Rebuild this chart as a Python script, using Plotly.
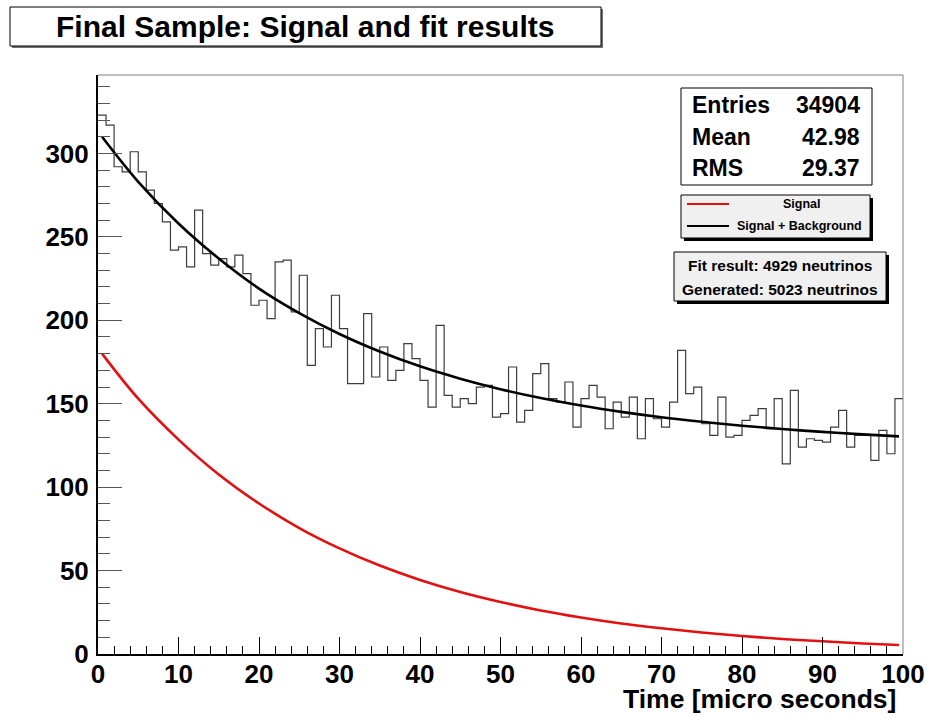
import plotly.graph_objects as go

# ---- data ----
bin_lower_edges = list(range(0, 100))          # 1 micro-second bins, 0..100
counts = [323, 317, 292, 289, 301, 289, 278, 270, 259, 242,
          244, 232, 266, 240, 233, 237, 232, 239, 228, 209,
          212, 201, 235, 236, 205, 227, 173, 195, 184, 215,
          195, 162, 162, 204, 166, 184, 164, 170, 186, 177,
          164, 148, 197, 155, 148, 153, 150, 160, 161, 142,
          144, 172, 139, 146, 168, 174, 153, 151, 163, 136,
          153, 161, 154, 135, 151, 142, 154, 129, 153, 141,
          136, 151, 182, 156, 160, 138, 131, 154, 130, 131,
          140, 143, 147, 135, 153, 114, 158, 124, 129, 128,
          127, 136, 146, 124, 131, 131, 116, 134, 120, 153]

fit_time = [0.5, 5, 10, 15, 20, 25, 30, 35, 40, 45, 50,
            55, 60, 65, 70, 75, 80, 85, 90, 95, 99.5]
signal_fit = [180, 153, 128.5, 107.6, 90.2, 75.5, 63.3, 53.0, 44.4, 37.2, 31.2,
              26.1, 21.9, 18.3, 15.4, 12.9, 10.8, 9.0, 7.6, 6.3, 5.4]
total_fit = [310, 283, 258, 237, 219, 204.3, 191.8, 181.3, 172.4, 165.0, 158.7,
             153.4, 148.9, 145.1, 141.9, 139.2, 136.8, 134.8, 133.1, 131.6, 130.4]

x_ticks = [0, 10, 20, 30, 40, 50, 60, 70, 80, 90, 100]
y_ticks = [0, 50, 100, 150, 200, 250, 300]

title_text = "Final Sample: Signal and fit results"
x_title = "Time [micro seconds]"
stats = [("Entries", "34904"), ("Mean", "42.98"), ("RMS", "29.37")]
legend_labels = ["Signal", "Signal + Background"]
fit_lines = ["Fit result: 4929 neutrinos", "Generated: 5023 neutrinos"]

# ---- layout geometry ----
W, H = 927, 717
ML, MR, MT, MB = 98, 24, 75, 63
PW, PH = W - ML - MR, H - MT - MB
FONT = "Liberation Sans, Arial, sans-serif"


def px(xp):
    return (xp - ML) / PW


def py(yp):
    return (H - MB - yp) / PH


fig = go.Figure()

# histogram drawn as steps over the bin edges
edges = bin_lower_edges + [bin_lower_edges[-1] + 1]
fig.add_trace(go.Scatter(x=edges, y=counts + [counts[-1]], mode="lines",
                         line=dict(shape="hv", color="#3c3c3c", width=1.2),
                         showlegend=False, hoverinfo="skip"))
fig.add_trace(go.Scatter(x=fit_time, y=total_fit, mode="lines",
                         line=dict(shape="spline", color="black", width=2.6),
                         showlegend=False))
fig.add_trace(go.Scatter(x=fit_time, y=signal_fit, mode="lines",
                         line=dict(shape="spline", color="#e41010", width=2.6),
                         showlegend=False))

shapes = []
annotations = []

# frame top / right (grey)
shapes.append(dict(type="line", xref="paper", yref="paper", x0=0, x1=1, y0=1, y1=1,
                   line=dict(color="#808080", width=1)))
shapes.append(dict(type="line", xref="paper", yref="paper", x0=1, x1=1, y0=0, y1=1,
                   line=dict(color="#808080", width=1)))


def box(x0, y0, x1, y1, fill, shadow=None, sh=3, bw=1):
    if shadow:
        shapes.append(dict(type="rect", xref="paper", yref="paper",
                           x0=px(x0 + sh), x1=px(x1 + sh), y0=py(y1 + sh), y1=py(y0 + sh),
                           fillcolor=shadow, line=dict(width=0), layer="above"))
    shapes.append(dict(type="rect", xref="paper", yref="paper",
                       x0=px(x0), x1=px(x1), y0=py(y1), y1=py(y0),
                       fillcolor=fill, line=dict(color="black", width=bw), layer="above"))


def text(t, xp, yp, size, anchor="center"):
    annotations.append(dict(text=t, xref="paper", yref="paper", x=px(xp), y=py(yp),
                            xanchor=anchor, yanchor="middle", showarrow=False,
                            font=dict(family=FONT, size=size, color="black", weight="bold")))


# title box
box(10, 7, 601, 46, "white", shadow="#707070", sh=2)
text(title_text, 305, 27, 30)

# stats box
box(681, 88, 872, 185, "white")
for i, (k, v) in enumerate(stats):
    yy = 105 + i * 31.7
    text(k, 690, yy, 23, "left")
    text(v, 862, yy, 23, "right")

# legend box
box(681, 195, 870, 238, "#f0f0f0", shadow="black", sh=3)
shapes.append(dict(type="line", xref="paper", yref="paper", x0=px(687), x1=px(729),
                   y0=py(204), y1=py(204), line=dict(color="#e41010", width=2), layer="above"))
shapes.append(dict(type="line", xref="paper", yref="paper", x0=px(687), x1=px(729),
                   y0=py(226), y1=py(226), line=dict(color="black", width=2), layer="above"))
text(legend_labels[0], 802, 204, 12.5)
text(legend_labels[1], 799, 226, 12.5)

# fit result box
box(674, 252, 886, 301, "#f0f0f0", shadow="black", sh=3)
text(fit_lines[0], 780, 265, 15.5)
text(fit_lines[1], 780, 289, 15.5)

# x axis title
annotations.append(dict(text=x_title, xref="paper", yref="paper", x=px(898), y=py(699),
                        xanchor="right", yanchor="middle", showarrow=False,
                        font=dict(family=FONT, size=26.5, color="black", weight="bold")))

fig.update_layout(
    width=W, height=H, autosize=False,
    margin=dict(l=ML, r=MR, t=MT, b=MB, pad=0, autoexpand=False),
    paper_bgcolor="white", plot_bgcolor="white",
    shapes=shapes, annotations=annotations, showlegend=False,
    xaxis=dict(range=[0, 100], tickvals=x_ticks, ticks="inside", ticklen=17,
               automargin=False,
               tickcolor="black", tickwidth=1, showgrid=False, zeroline=False,
               showline=True, linecolor="black", linewidth=1.5,
               ticklabelstandoff=-4,
               tickfont=dict(family=FONT, size=26, color="black", weight="bold"),
               minor=dict(dtick=2, ticks="inside", ticklen=8, tickcolor="black",
                          tickwidth=1, showgrid=False)),
    yaxis=dict(range=[0, 347], tickvals=y_ticks, ticks="inside", ticklen=24,
               automargin=False,
               tickcolor="#555555", tickwidth=1, showgrid=False, zeroline=False,
               showline=True, linecolor="black", linewidth=2,
               ticklabelstandoff=2,
               tickfont=dict(family=FONT, size=26, color="black", weight="bold"),
               minor=dict(dtick=10, ticks="inside", ticklen=12, tickcolor="#555555",
                          tickwidth=1, showgrid=False)),
)

fig.write_html("out.html", config={"displayModeBar": False})

# remove the browser's default page margin so the figure sits at (0, 0)
with open("out.html", encoding="utf-8") as f:
    page = f.read()
page = page.replace("<head>", "<head><style>html,body{margin:0;padding:0;overflow:hidden;}</style>", 1)
with open("out.html", "w", encoding="utf-8") as f:
    f.write(page)
